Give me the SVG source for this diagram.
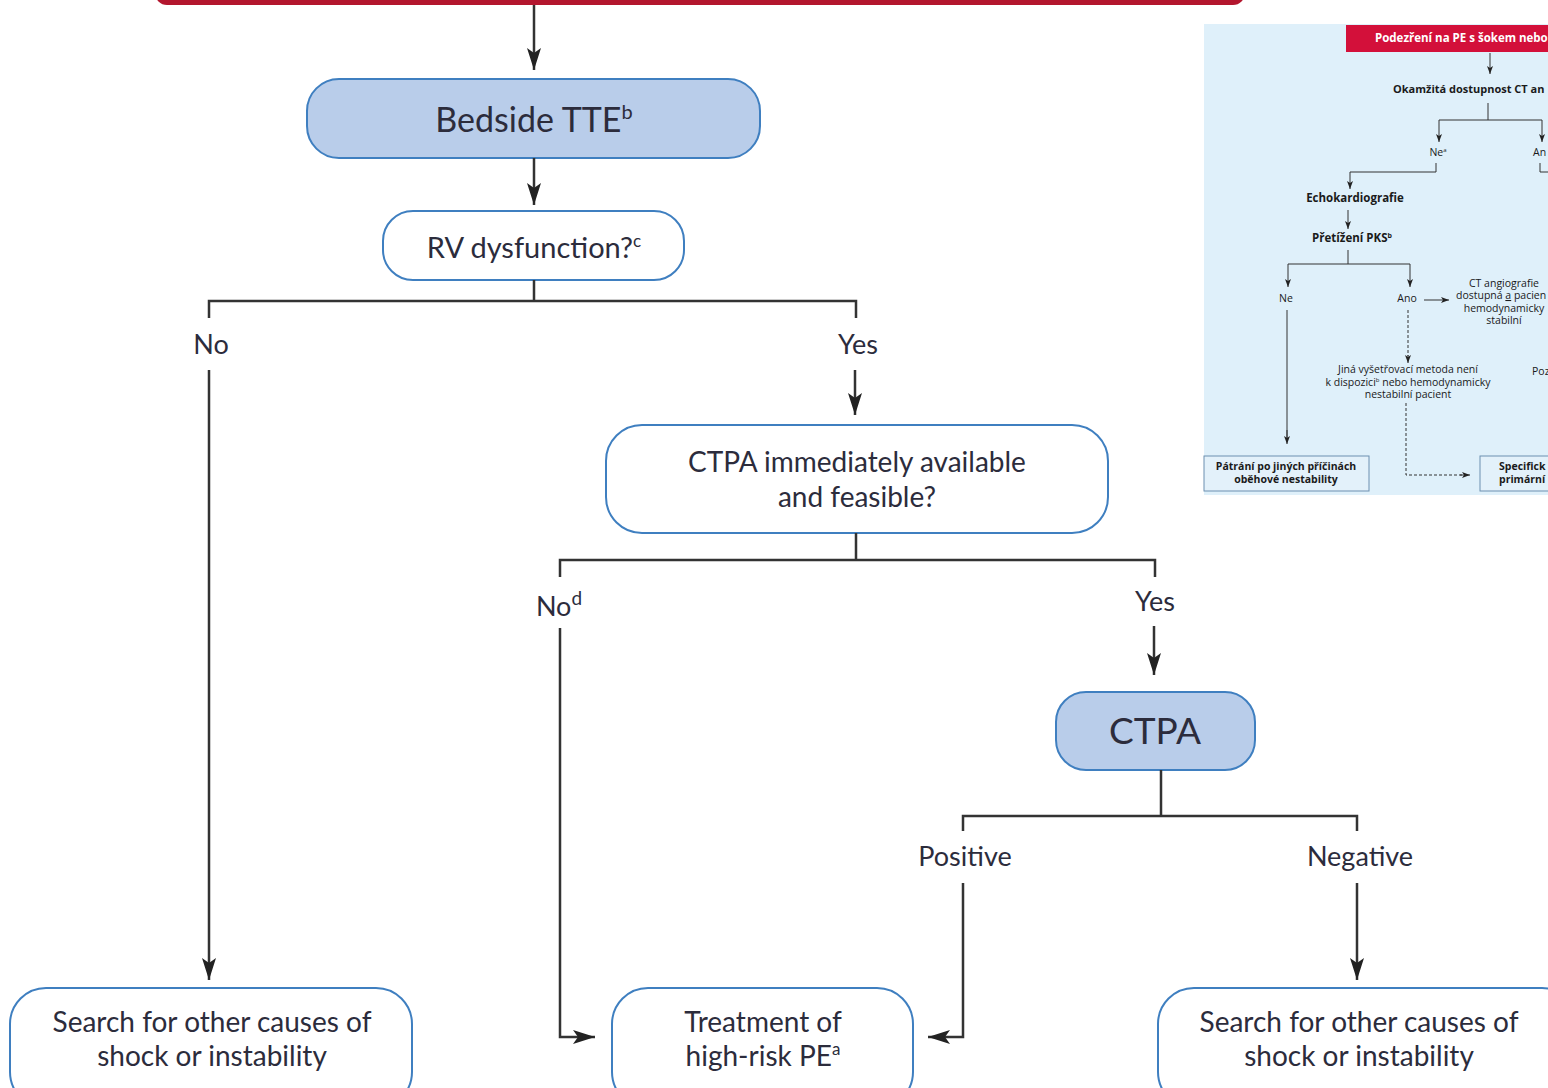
<svg xmlns="http://www.w3.org/2000/svg" width="1548" height="1088" viewBox="0 0 1548 1088">
<defs>
<marker id="ah" markerUnits="userSpaceOnUse" markerWidth="24" markerHeight="16" refX="22" refY="7" orient="auto">
<path d="M0,0 L22,7 L0,14 L5,7 z" fill="#222"/>
</marker>
<marker id="ahs" markerUnits="userSpaceOnUse" markerWidth="10" markerHeight="8" refX="8" refY="3" orient="auto">
<path d="M0,0 L8,3 L0,6 L2,3 z" fill="#222"/>
</marker>
<style>
.blue{fill:#b9cdea;stroke:#3f7fc0;stroke-width:2}
.white{fill:#fff;stroke:#3f7fc0;stroke-width:2}
.t{font-family:Lato,"Open Sans",sans-serif;fill:#2c2c3c;text-anchor:middle}
.ln{fill:none;stroke:#333;stroke-width:2.5}
.arr{fill:none;stroke:#333;stroke-width:2.5;marker-end:url(#ah)}
.sl{fill:none;stroke:#333;stroke-width:1}
.sa{fill:none;stroke:#333;stroke-width:1;marker-end:url(#ahs)}
.sd{fill:none;stroke:#333;stroke-width:1;stroke-dasharray:3,2}
.it{font-family:"Open Sans","Liberation Sans",sans-serif;fill:#1a1a1a;font-size:10.5px;text-anchor:middle}
.ib{font-family:"Open Sans","Liberation Sans",sans-serif;fill:#1a1a1a;font-size:11.5px;font-weight:bold;text-anchor:middle}
</style>
</defs>
<rect width="1548" height="1088" fill="#fff"/>

<g id="top-bar"><rect x="155" y="-40" width="1090" height="45" rx="12" fill="#b3162e"/></g>

<g id="bedside-tte"><rect class="blue" x="307" y="79" width="453" height="79" rx="32"/>
<text class="t" x="534" y="132" font-size="34">Bedside TTE<tspan font-size="20" dy="-13">b</tspan></text></g>

<g id="rv-dysfunction"><rect class="white" x="383" y="211" width="301" height="69" rx="30"/>
<text class="t" x="534" y="258" font-size="29">RV dysfunction?<tspan font-size="17" dy="-11">c</tspan></text></g>

<g id="ctpa-available"><rect class="white" x="606" y="425" width="502" height="108" rx="36"/>
<text class="t" x="857" y="472" font-size="28">CTPA immediately available</text>
<text class="t" x="857" y="507" font-size="28">and feasible?</text></g>

<g id="ctpa"><rect class="blue" x="1056" y="692" width="199" height="78" rx="30"/>
<text class="t" x="1155" y="744" font-size="37">CTPA</text></g>

<g id="search-left"><rect class="white" x="10" y="988" width="402" height="120" rx="36"/>
<text class="t" x="212" y="1032" font-size="28">Search for other causes of</text>
<text class="t" x="212" y="1066" font-size="28">shock or instability</text></g>

<g id="treatment"><rect class="white" x="612" y="988" width="301" height="120" rx="36"/>
<text class="t" x="763" y="1032" font-size="28">Treatment of</text>
<text class="t" x="763" y="1066" font-size="28">high-risk PE<tspan font-size="17" dy="-11">a</tspan></text></g>

<g id="search-right"><rect class="white" x="1158" y="988" width="420" height="120" rx="36"/>
<text class="t" x="1359" y="1032" font-size="28">Search for other causes of</text>
<text class="t" x="1359" y="1066" font-size="28">shock or instability</text></g>

<g id="labels">
<text class="t" x="211" y="354" font-size="27">No</text>
<text class="t" x="858" y="354" font-size="27">Yes</text>
<text class="t" x="559" y="616" font-size="27">No<tspan font-size="19" dy="-11">d</tspan></text>
<text class="t" x="1155" y="611" font-size="27">Yes</text>
<text class="t" x="965" y="866" font-size="27">Positive</text>
<text class="t" x="1360" y="866" font-size="27">Negative</text>
</g>

<g id="connectors">
<path class="arr" d="M534,5 V70"/>
<path class="arr" d="M534,158 V205"/>
<path class="ln" d="M534,280 V301 M209,318 V301 H856 V318"/>
<path class="arr" d="M209,370 V980"/>
<path class="arr" d="M855,370 V415"/>
<path class="ln" d="M856,533 V560 M560,577 V560 H1155 V577"/>
<path class="arr" d="M560,628 V1037 H595"/>
<path class="arr" d="M1154,626 V675"/>
<path class="ln" d="M1161,770 V816 M963,831 V816 H1357 V831"/>
<path class="arr" d="M963,883 V1037 H928"/>
<path class="arr" d="M1357,883 V980"/>
</g>

<g id="inset">
<rect x="1204" y="24" width="344" height="471" fill="#dff0fa"/>
<rect x="1346" y="25" width="210" height="27" fill="#d3103a"/>
<text x="1375" y="42" font-family="'Open Sans','Liberation Sans',sans-serif" font-size="11.5" font-weight="bold" fill="#fff">Podezření na PE s šokem nebo</text>
<path class="sa" d="M1490,53 V74"/>
<text class="ib" x="1393" y="93" style="text-anchor:start;font-size:11px">Okamžitá dostupnost CT an</text>
<path class="sl" d="M1488,103 V120 M1439,120 H1542"/>
<path class="sa" d="M1439,120 V142"/>
<path class="sa" d="M1542,120 V142"/>
<text class="it" x="1438" y="156">Ne<tspan font-size="6" dy="-4">a</tspan></text>
<text class="it" x="1533" y="156" style="text-anchor:start">An</text>
<path class="sl" d="M1436,163 V172 H1350 M1540,163 V172 H1550"/>
<path class="sa" d="M1350,172 V189"/>
<text class="ib" x="1355" y="202">Echokardiografie</text>
<path class="sa" d="M1348,210 V229"/>
<text class="ib" x="1352" y="242">Přetížení PKS<tspan font-size="7" dy="-4">b</tspan></text>
<path class="sl" d="M1348,250 V264 M1288,264 H1410"/>
<path class="sa" d="M1288,264 V287"/>
<path class="sa" d="M1410,264 V287"/>
<text class="it" x="1286" y="302">Ne</text>
<text class="it" x="1407" y="302">Ano</text>
<path class="sa" d="M1424,300 V300 H1449"/>
<text class="it" x="1504" y="287">CT angiografie</text>
<text class="it" x="1456" y="299" style="text-anchor:start">dostupná <tspan text-decoration="underline">a</tspan> pacien</text>
<text class="it" x="1504" y="312">hemodynamicky</text>
<text class="it" x="1504" y="324">stabilní</text>
<path class="sl" d="M1287,310 V440"/>
<path class="sa" d="M1287,430 V444"/>
<path class="sd" d="M1408,310 V356"/>
<path class="sa" d="M1408,355 V363"/>
<text class="it" x="1408" y="373">Jiná vyšetřovací metoda není</text>
<text class="it" x="1408" y="386">k dispozici<tspan font-size="6" dy="-4">b</tspan><tspan dy="4"> nebo hemodynamicky</tspan></text>
<text class="it" x="1408" y="398">nestabilní pacient</text>
<path class="sd" d="M1406,403 V475 H1462"/>
<path class="sa" d="M1460,475 H1470"/>
<text class="it" x="1532" y="375" style="text-anchor:start">Poz</text>
<rect x="1204" y="456" width="165" height="35" fill="#e3f1fa" stroke="#6d8fb0" stroke-width="1"/>
<text class="ib" x="1286" y="470" style="font-size:10.5px">Pátrání po jiných příčinách</text>
<text class="ib" x="1286" y="483" style="font-size:10.5px">oběhové nestability</text>
<rect x="1480" y="456" width="80" height="35" fill="#e3f1fa" stroke="#6d8fb0" stroke-width="1"/>
<text class="ib" x="1499" y="470" style="text-anchor:start;font-size:10.5px">Specifick</text>
<text class="ib" x="1499" y="483" style="text-anchor:start;font-size:10.5px">primární</text>
</g>
</svg>
